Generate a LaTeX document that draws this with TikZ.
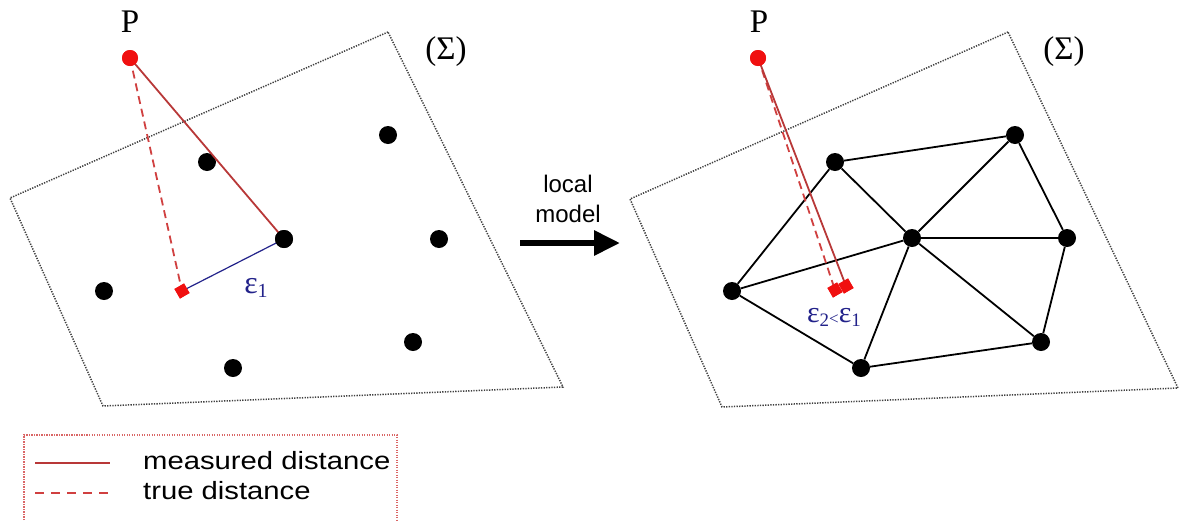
\documentclass[tikz,border=0pt]{standalone}
\usepackage{fontspec}
\setmainfont{Liberation Serif}
\newfontfamily\arialfont{Liberation Sans}
\usetikzlibrary{arrows.meta}
\definecolor{pred}{HTML}{F01010}
\definecolor{lred}{HTML}{B83838}
\definecolor{dred}{HTML}{D04040}
\definecolor{eblue}{HTML}{22228A}
\definecolor{qgray}{HTML}{404040}
\begin{document}
\begin{tikzpicture}[x=1pt,y=-1pt,
  dot/.style={circle,fill=black,inner sep=0pt,minimum size=18pt},
  pdot/.style={circle,fill=pred,inner sep=0pt,minimum size=16pt},
  marker/.style={rectangle,fill=pred,inner sep=0pt,minimum size=11pt,rotate=30},
  surf/.style={qgray,line width=1.5pt,dash pattern=on 1.3pt off 1.3pt},
  meas/.style={lred,line width=1.8pt},
  truel/.style={dred,line width=1.8pt,dash pattern=on 8pt off 5pt},
  edge/.style={black,line width=1.8pt},
  serif/.style={font=\fontsize{33}{36}\selectfont,inner sep=0pt},
  sans/.style={font=\arialfont\fontsize{24}{28}\selectfont,inner sep=0pt},
  eps/.style={eblue,font=\fontsize{32}{34}\selectfont,inner sep=0pt}]
\useasboundingbox (0,0) rectangle (1179,520);

% ---------- left panel ----------
\coordinate (q1) at (388,32);
\coordinate (q2) at (10,198);
\coordinate (q3) at (103,406);
\coordinate (q4) at (563,387);
\draw[surf] (q1) -- (q2) -- (q3) -- (q4) -- cycle;
\node[serif] (sig1) at (446,52) {(Σ)};

\node[dot] (l1) at (207,162) {};
\node[dot] (l2) at (388,135) {};
\node[dot] (l3) at (284,239) {};
\node[dot] (l4) at (439,239) {};
\node[dot] (l5) at (104,291) {};
\node[dot] (l6) at (413,342) {};
\node[dot] (l7) at (233,368) {};

\node[marker] (lm) at (182,291) {};
\node[pdot] (P1) at (130,58) {};
\node[serif] (P1lab) at (130,22) {P};
\draw[truel] (P1.center) -- (lm.center);
\draw[meas] (P1.center) -- (l3.center);
\draw[eblue,line width=1.2pt] (lm.center) -- (l3.center);
\node[pdot] at (P1) {};
\node[marker] at (lm) {};
\node[dot] at (l3) {};
\node[eps] (e1) at (256,288) {ε\raisebox{-0.3ex}{\fontsize{20}{22}\selectfont 1}};

% ---------- arrow ----------
\node[sans] (loc) at (568,184) {local};
\node[sans] (mod) at (568,214) {model};
\coordinate (a1) at (520,243);
\coordinate (a2) at (620,243);
\draw[line width=6pt,-{Triangle[length=26pt,width=24pt]}] (a1) -- (a2);

% ---------- right panel ----------
\coordinate (r1) at (1008,32);
\coordinate (r2) at (630,199);
\coordinate (r3) at (722,407);
\coordinate (r4) at (1178,388);
\draw[surf] (r1) -- (r2) -- (r3) -- (r4) -- cycle;
\node[serif] (sig2) at (1064,52) {(Σ)};

\node[dot] (A) at (835,162) {};
\node[dot] (B) at (1015,135) {};
\node[dot] (C) at (912,238) {};
\node[dot] (D) at (1067,238) {};
\node[dot] (E) at (732,291) {};
\node[dot] (F) at (1041,342) {};
\node[dot] (G) at (861,368) {};
\draw[edge] (E) -- (A) -- (B) -- (D) -- (F) -- (G) -- (E);
\draw[edge] (C) -- (A);
\draw[edge] (C) -- (B);
\draw[edge] (C) -- (D);
\draw[edge] (C) -- (F);
\draw[edge] (C) -- (G);
\draw[edge] (C) -- (E);

\node[marker] (rm1) at (835,290) {};
\node[marker] (rm2) at (846,286) {};
\node[pdot] (P2) at (758,58) {};
\node[serif] (P2lab) at (759,22) {P};
\draw[truel] (P2.center) -- (rm1.center);
\draw[meas] (P2.center) -- (rm2.center);
\node[pdot] at (P2) {};
\node[marker] at (rm1) {};
\node[marker] at (rm2) {};
\node[eps,font=\fontsize{30}{32}\selectfont] (e2) at (834,317) {ε\raisebox{-0.3ex}{\fontsize{19}{20}\selectfont 2}\raisebox{-0.2ex}{\fontsize{17}{18}\selectfont <}ε\raisebox{-0.3ex}{\fontsize{19}{20}\selectfont 1}};

% ---------- legend ----------
\draw[dred!80,line width=1.3pt,dash pattern=on 1.2pt off 1.3pt] (24,530) -- (24,435) -- (397,435) -- (397,530);
\coordinate (s1) at (35,463);
\coordinate (s2) at (110,463);
\coordinate (t1) at (35,493);
\coordinate (t2) at (110,493);
\draw[meas] (s1) -- (s2);
\draw[truel,dash pattern=on 9pt off 7pt] (t1) -- (t2);
\node[sans,anchor=west,font=\arialfont\fontsize{25}{28}\selectfont] (lg1) at (143,461) {\scalebox{1.17}[1]{measured distance}};
\node[sans,anchor=west,font=\arialfont\fontsize{25}{28}\selectfont] (lg2) at (143,491) {\scalebox{1.17}[1]{true distance}};
\end{tikzpicture}
\end{document}
